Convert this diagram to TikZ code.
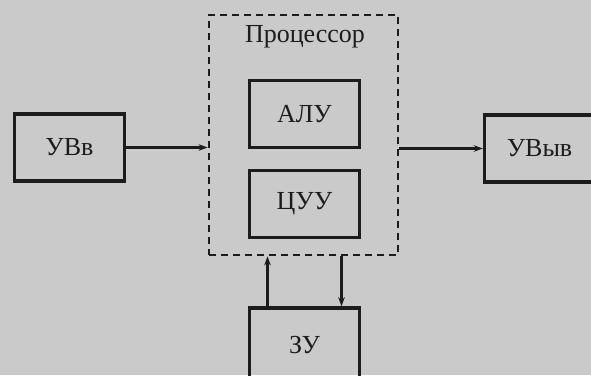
\documentclass[tikz,border=0pt]{standalone}
\usepackage{fontspec}
\setmainfont{Liberation Serif}
\usepackage{xcolor}
\usetikzlibrary{arrows.meta,positioning}
\definecolor{scan}{HTML}{CACACA}
\definecolor{ink}{HTML}{1C1C1C}
\tikzset{
  ar/.style={-{Stealth[length=9pt,width=6.5pt]},line width=2.4pt,ink},
  blk/.style={draw=ink,line width=3.4pt,minimum width=110pt,minimum height=67pt,inner sep=0pt,
    font=\fontsize{26}{30}\selectfont,text=ink},
  procbox/.style={draw=ink,line width=2.8pt,dash pattern=on 7pt off 5pt,minimum width=189pt,minimum height=240pt,inner sep=0pt}
}
\begin{document}
\begin{tikzpicture}[x=1pt,y=-1pt]
\fill[scan] (0,0) rectangle (591,375);
\useasboundingbox (0,0) rectangle (591,375);
% processor with its parts
\node[procbox] (proc) at (303.5,135) {};
\node[font=\fontsize{26}{30}\selectfont,text=ink] (proclbl) at (305,37) {Процессор};
\node[blk] (alu) at (304.5,114) {АЛУ};
\node[blk] (cuu) at (304.5,204) {ЦУУ};
% devices
\node[blk] (uvv) at (69.5,147.5) {УВв};
\node[blk] (uvyv) at (539.5,148.5) {УВыв};
\node[blk,minimum height=74pt] (zu) at (304.5,345) {ЗУ};
% connections
\draw[ar] (uvv.east) -- (uvv.east -| proc.west);
\draw[ar] (uvyv.west -| proc.east) -- (uvyv.west);
\draw[ar] ([xshift=-37pt]zu.north) -- ([xshift=-37pt]zu.north |- proc.south);
\draw[ar] ([xshift=37pt]zu.north |- proc.south) -- ([xshift=37pt]zu.north);
\end{tikzpicture}
\end{document}
